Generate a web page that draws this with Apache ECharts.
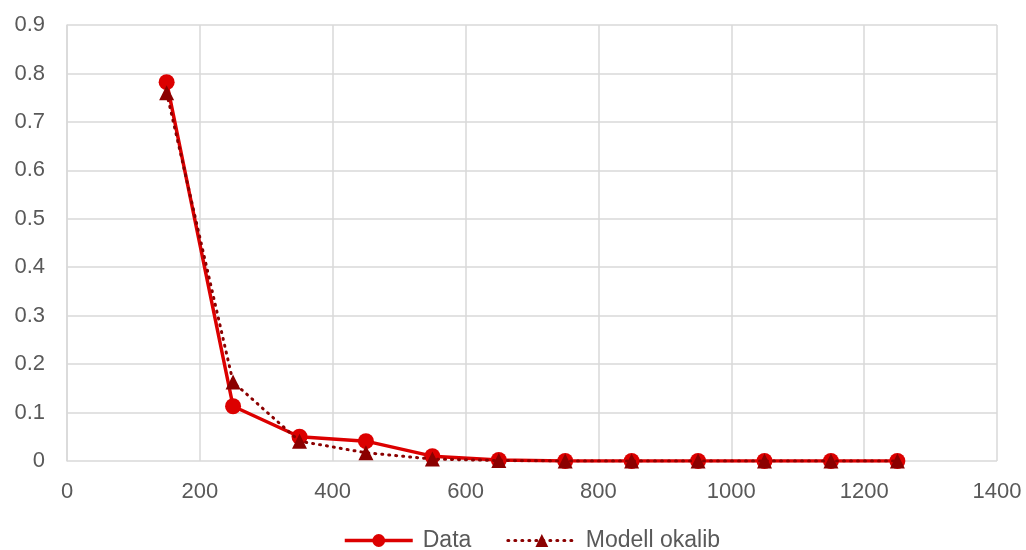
<!DOCTYPE html>
<html><head><meta charset="utf-8">
<script src="https://cdn.jsdelivr.net/npm/echarts@6/dist/echarts.min.js"></script>
<style>html,body{margin:0;padding:0;background:#fff}#c{width:1026px;height:550px}</style>
</head><body><div id="c"></div>
<script>
const xValues = [150, 250, 350, 450, 550, 650, 750, 850, 950, 1050, 1150, 1250];
const dataValues = [0.782, 0.113, 0.050, 0.041, 0.010, 0.002, 0, 0, 0, 0, 0, 0];
const modelValues = [0.760, 0.163, 0.041, 0.017, 0.004, 0.001, 0, 0, 0, 0, 0, 0];
const seriesNames = ['Data', 'Modell okalib'];

const chart = echarts.init(document.getElementById('c'));
const txt = {color: '#595959', fontSize: 22, fontFamily: 'Liberation Sans, Arial, sans-serif'};
const dataColor = '#dc0000', modelColor = '#8b0000';
chart.setOption({
  animation: false,
  grid: {left: 67, right: 29, top: 25, bottom: 89, containLabel: false},
  legend: {
    top: 529, left: 343, itemGap: 35, itemWidth: 68, itemHeight: 16, padding: 0,
    textStyle: Object.assign({}, txt, {fontSize: 23, padding: [0, 0, 0, 5]}),
    data: [
      {name: seriesNames[0], lineStyle: {width: 3.5, color: dataColor}},
      {name: seriesNames[1], lineStyle: {width: 3, color: modelColor, type: [1, 6], cap: 'round'}}
    ]
  },
  xAxis: {
    type: 'value', min: 0, max: 1400, interval: 200,
    axisLine: {show: false}, axisTick: {show: false},
    splitLine: {show: true, lineStyle: {color: '#d9d9d9', width: 1.5}},
    axisLabel: Object.assign({margin: 20, formatter: v => String(v)}, txt)
  },
  yAxis: {
    type: 'value', min: 0, max: 0.9, interval: 0.1,
    axisLine: {show: true, lineStyle: {color: '#d9d9d9', width: 1.5}}, axisTick: {show: false},
    splitLine: {show: true, lineStyle: {color: '#d9d9d9', width: 1.5}},
    axisLabel: Object.assign({margin: 22, formatter: v => String(Math.round(v * 10) / 10)}, txt)
  },
  series: [
    {
      name: seriesNames[0], type: 'line',
      data: xValues.map((x, i) => [x, dataValues[i]]),
      symbol: 'circle', symbolSize: 16,
      lineStyle: {color: dataColor, width: 3.5},
      itemStyle: {color: dataColor}, z: 2
    },
    {
      name: seriesNames[1], type: 'line',
      data: xValues.map((x, i) => [x, modelValues[i]]),
      symbol: 'triangle', symbolSize: 15,
      lineStyle: {color: modelColor, width: 3, type: [1, 6], cap: 'round'},
      itemStyle: {color: modelColor}, z: 3
    }
  ]
});
</script></body></html>
